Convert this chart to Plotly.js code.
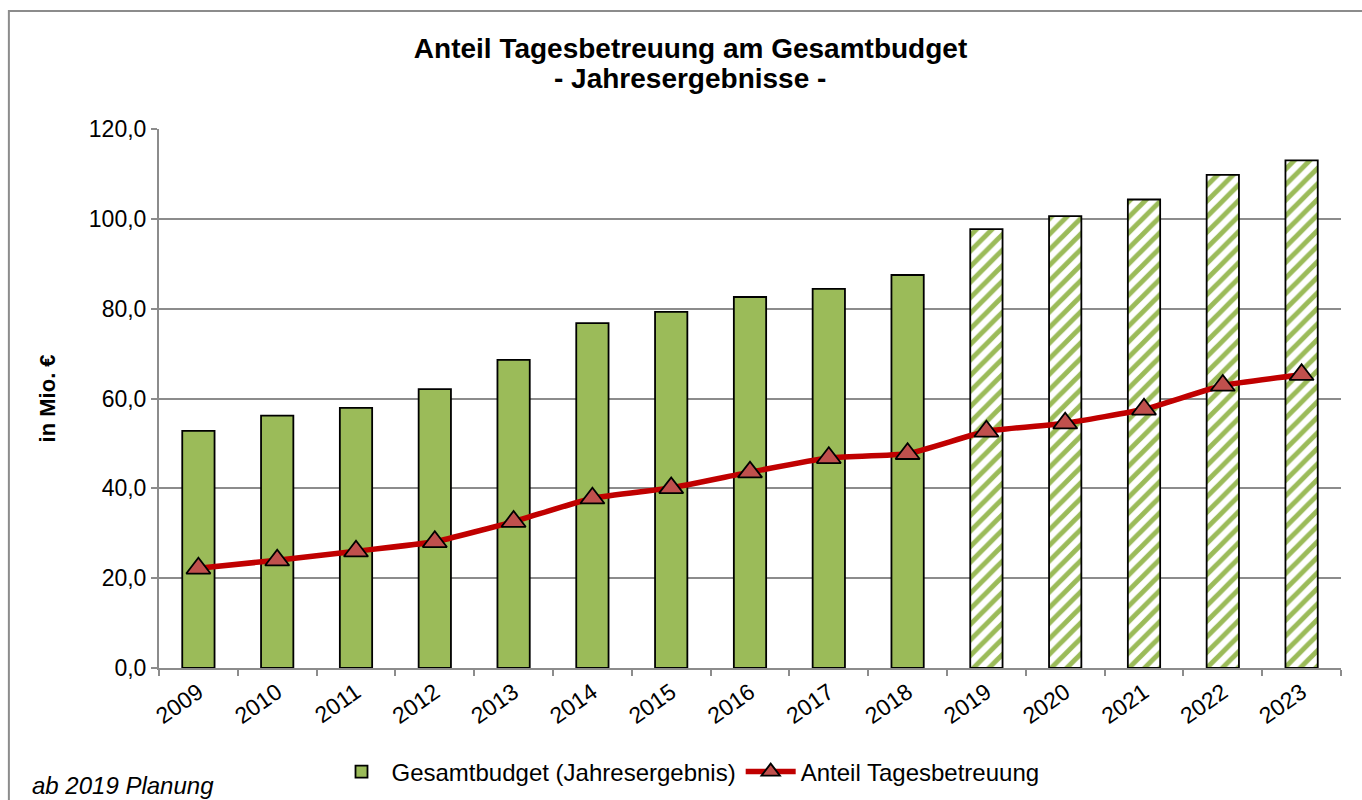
<!DOCTYPE html>
<html>
<head>
<meta charset="utf-8">
<script src="https://cdn.plot.ly/plotly-3.0.1.min.js"></script>
<style>
  body { margin: 0; background: #fff; }
  #chart { width: 1362px; height: 800px; }
</style>
</head>
<body>
<div id="chart"></div>
<script>
// Jahre und Werte (in Mio. €), ab 2019 Planung
const jahre = ['2009', '2010', '2011', '2012', '2013', '2014', '2015', '2016',
               '2017', '2018', '2019', '2020', '2021', '2022', '2023'];
const gesamtbudget = [52.8, 56.2, 57.9, 62.1, 68.6, 76.8, 79.3, 82.6,
                      84.4, 87.5, 97.7, 100.6, 104.3, 109.8, 113.0];
const anteilTagesbetreuung = [22.2, 24.0, 26.0, 28.1, 32.6, 37.8, 40.1, 43.6,
                              46.8, 47.7, 52.7, 54.5, 57.6, 62.9, 65.3];
const planungAb = '2019';

const gruen = '#9BBB59';
const planung = jahre.map(j => j >= planungAb);

const traces = [
    {
        x: jahre,
        y: gesamtbudget,
        type: 'bar',
        name: 'Gesamtbudget (Jahresergebnis)',
        marker: {
            color: gruen,
            line: { color: '#000000', width: 1.8 },
            pattern: {
                shape: planung.map(p => p ? '/' : ''),
                fgcolor: gruen,
                bgcolor: '#ffffff',
                fillmode: 'replace',
                size: 11,
                solidity: 0.45
            }
        },
        hoverinfo: 'x+y'
    },
    {
        x: jahre,
        y: anteilTagesbetreuung,
        type: 'scatter',
        mode: 'lines+markers',
        name: 'Anteil Tagesbetreuung',
        line: { color: '#C00000', width: 5.5, shape: 'spline', smoothing: 0.4 },
        marker: {
            symbol: 'triangle-up',
            size: 21,
            color: '#C0504D',
            line: { color: '#000000', width: 1.8 }
        }
    }
];

const layout = {
    width: 1362,
    height: 800,
    margin: { l: 159, r: 21, t: 129, b: 132 },
    paper_bgcolor: '#ffffff',
    plot_bgcolor: '#ffffff',
    separators: ',.',
    font: { family: 'Liberation Sans, Arial, sans-serif', color: '#000000' },
    title: {
        text: '<b>Anteil Tagesbetreuung am Gesamtbudget</b>',
        font: { family: 'Liberation Sans, Arial, sans-serif', size: 28 },
        x: 0.507,
        xanchor: 'center',
        yref: 'container',
        y: 1 - 48 / 800,
        yanchor: 'middle',
        automargin: false
    },
    bargap: 0.59,
    showlegend: true,
    legend: {
        orientation: 'h',
        xref: 'container',
        yref: 'container',
        x: 688 / 1362,
        xanchor: 'center',
        y: 1 - 772 / 800,
        yanchor: 'middle',
        font: { size: 24 },
        itemwidth: 50,
        traceorder: 'normal'
    },
    xaxis: {
        type: 'category',
        range: [-0.5, 14.5],
        automargin: false,
        tickangle: -35,
        tickfont: { size: 23 },
        ticks: 'outside',
        tickson: 'boundaries',
        ticklen: 6,
        tickwidth: 2,
        tickcolor: '#8c8c8c',
        showline: true,
        linecolor: '#8c8c8c',
        linewidth: 2,
        showgrid: false
    },
    yaxis: {
        range: [0, 120],
        automargin: false,
        dtick: 20,
        tickformat: '.1f',
        tickfont: { size: 23 },
        ticks: 'outside',
        ticklen: 6,
        tickwidth: 2,
        tickcolor: '#8c8c8c',
        showline: true,
        linecolor: '#8c8c8c',
        linewidth: 2,
        showgrid: true,
        gridcolor: '#8c8c8c',
        gridwidth: 2,
        zeroline: false
    },
    annotations: [
        {
            text: '<b>- Jahresergebnisse -</b>',
            xref: 'paper', yref: 'paper',
            x: (690 - 159) / 1182, xanchor: 'center',
            y: (668 - 79) / 539, yanchor: 'middle',
            showarrow: false,
            font: { size: 28 }
        },
        {
            text: '<b>in Mio. €</b>',
            xref: 'paper', yref: 'paper',
            x: -0.094, xanchor: 'center',
            y: 0.5, yanchor: 'middle',
            textangle: -90,
            showarrow: false,
            font: { size: 22 }
        },
        {
            text: '<i>ab 2019 Planung</i>',
            xref: 'paper', yref: 'paper',
            x: -0.109, xanchor: 'left',
            y: -0.218, yanchor: 'middle',
            showarrow: false,
            font: { size: 24 }
        }
    ],
    shapes: [
        {
            type: 'rect',
            xref: 'paper', yref: 'paper',
            x0: -0.127, x1: 1.2,
            y0: -0.5, y1: 1.219,
            line: { color: '#8c8c8c', width: 2 },
            fillcolor: 'rgba(0,0,0,0)',
            layer: 'below'
        }
    ]
};

Plotly.newPlot('chart', traces, layout, { displayModeBar: false, staticPlot: true });
</script>
</body>
</html>
